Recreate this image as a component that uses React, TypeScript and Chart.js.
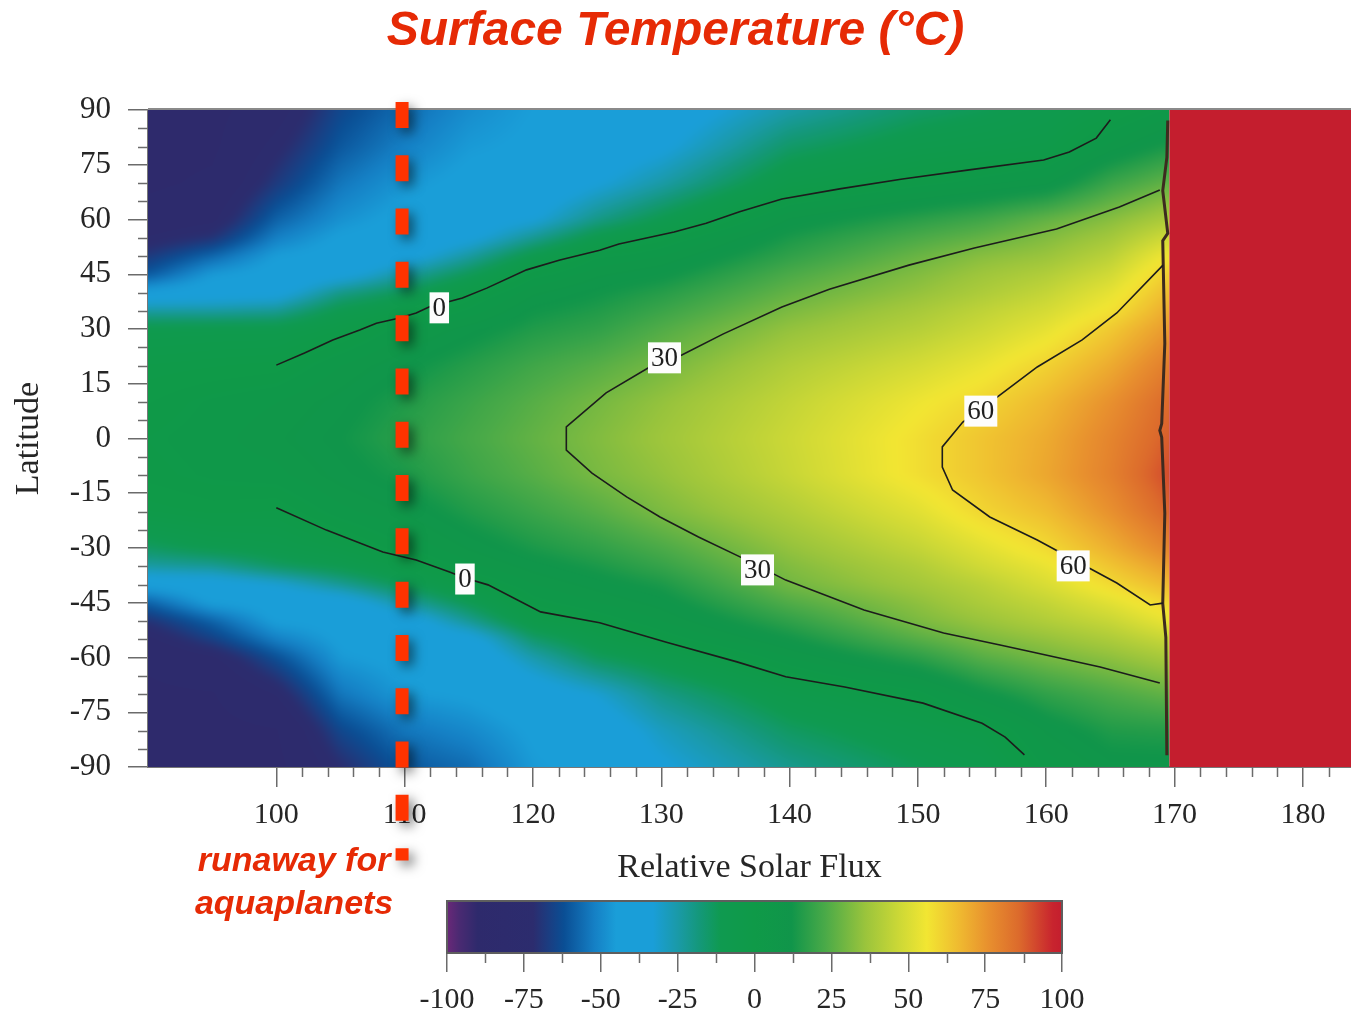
import { useEffect, useRef } from 'react';
import { Chart, registerables } from 'chart.js';

Chart.register(...registerables);

// ---- Temperature field (°C): rows follow gridLatitude, columns follow gridFlux ----
const gridFlux = [90, 95, 100, 105, 110, 115, 120, 125, 130, 140, 150, 155, 160, 165, 169.5];
const gridLatitude = [90, 80, 70, 60, 55, 50, 45, 40, 35, 30, 20, 10, 0, -10, -20, -30, -35, -40, -45, -50, -55, -60, -70, -80, -90];
const surfaceTemperature = [
  [-89, -88, -80, -64, -56, -49, -45, -43, -40, -25, -15, -12, -8, -2, 4],
  [-88, -87, -74, -60, -52, -46, -44, -40, -35, -15, -7, -5, -3, 7, 14],
  [-87, -84, -68, -54, -47, -43, -42, -34, -25, -5, 2, 5, 8, 20, 27],
  [-82, -78, -58, -48, -43, -40, -34, -20, -10, 9, 17, 21, 27, 33, 40],
  [-76, -70, -52, -44, -42, -36, -22, -8, 0, 14, 23, 27, 32, 38, 48],
  [-68, -57, -45, -42, -38, -24, -8, 3, 6, 18, 28, 33, 36, 43, 56],
  [-60, -46, -42, -38, -24, -12, 2, 8, 11, 23, 32, 37, 41, 48, 62],
  [-43, -40, -38, -20, -12, -1, 8, 12, 16, 27, 35, 40, 45, 53, 66],
  [-24, -24, -22, -9, -3, 4, 12, 15, 20, 31, 39, 44, 49, 57, 70],
  [-8, -7, -7, -2, 5, 10, 15, 18, 24, 35, 42, 47, 53, 63, 74],
  [-2, -1, 0, 6, 11, 16, 21, 25, 30, 41, 49, 54, 61, 70, 81],
  [1, 4, 6, 10, 15, 20, 25, 30, 35, 45, 55, 60, 67, 76, 86],
  [3, 5, 8, 12, 17, 22, 27, 32, 37, 47, 58, 64, 70, 79, 88],
  [2, 4, 5, 10, 14, 20, 25, 30.5, 35, 46, 58, 64, 71, 80, 91],
  [-2, 0, -1, 5, 9, 15, 20, 25, 31, 41, 52, 60, 66, 76, 87],
  [-14, -9, -7, -3, 3, 9, 14, 18, 23, 35, 45, 52, 59, 69, 79],
  [-24, -22, -14, -9, -2, 5, 10, 14, 19, 32, 41, 48, 54, 64, 73],
  [-42, -40, -33, -22, -11, -1, 6, 10, 14, 29.5, 38, 43, 50, 59, 67],
  [-58, -44, -42, -40, -24, -11, 2, 6, 10, 24, 34, 40, 45, 52, 60],
  [-70, -58, -44, -43, -40, -22, -4, 1, 6, 18, 31, 36, 41, 46, 54],
  [-78, -66, -52, -44, -42, -38, -16, -6, 1, 12, 25, 31, 35, 40, 46],
  [-84, -78, -62, -46, -43, -42, -26, -13, -7, 6, 17, 25, 30, 34, 39],
  [-87, -86, -76, -54, -46, -44, -40, -32, -20, -6, 2, 11, 18, 23, 27],
  [-89, -88, -86, -64, -54, -50, -44, -40, -29, -14, -6, -2, 9, 15, 16],
  [-90, -89, -88, -72, -60, -56, -46, -43, -34, -21, -12, -8, 4, 10, 10],
];

// Beyond this relative flux the planet is in runaway (off-scale hot)
const runawayOnsetFlux = 169.6;
// Runaway threshold for aquaplanets (dashed marker) and its vertical extent in latitude units
const aquaplanetRunawayFlux = 109.8;
const markerLatitudeSpan = [92.2, -115.6];

// ---- Isotherms: [relative flux, latitude] ----
const contour0North: [number, number][] = [
  [100.0, 20.1], [102.2, 23.4], [104.4, 27.0], [106.5, 29.7], [107.8, 31.6], [109.6, 33.0],
  [110.9, 34.4], [111.9, 36.0], [114.5, 38.5], [116.4, 41.2], [119.5, 46.2], [122.1, 48.9],
  [125.2, 51.6], [126.7, 53.3], [131.0, 56.6], [133.5, 59.0], [136.1, 62.1], [139.4, 65.6],
  [143.9, 68.4], [148.8, 71.1], [154.0, 73.6], [159.8, 76.3], [161.8, 78.5], [163.9, 82.3],
  [165.0, 87.3],
];
const contour0South: [number, number][] = [
  [100.0, -19.0], [103.9, -25.1], [108.3, -31.1], [110.9, -33.3], [113.5, -36.6], [114.7, -38.2],
  [116.5, -40.1], [120.6, -47.5], [125.2, -50.5], [130.4, -55.8], [135.9, -61.2], [139.7, -65.3],
  [144.3, -68.1], [150.4, -72.5], [155.0, -78.0], [156.8, -81.8], [158.3, -86.7],
];
const contour30: [number, number][] = [
  [168.85, 68.1], [165.7, 63.4], [160.8, 57.4], [154.4, 52.2], [149.3, 47.5], [143.1, 40.9],
  [139.4, 36.0], [134.8, 28.6], [131.6, 22.9], [129.1, 19.6], [125.7, 12.5], [122.6, 3.2],
  [122.6, -3.2], [124.6, -9.5], [127.3, -16.0], [129.9, -21.5], [132.9, -27.0], [136.3, -32.7],
  [139.7, -38.8], [145.8, -47.0], [152.0, -53.3], [156.4, -56.6], [158.9, -58.5], [164.2, -62.6],
  [168.85, -67.0],
];
const contour60: [number, number][] = [
  [169.1, 47.5], [165.5, 34.4], [162.8, 27.0], [159.3, 19.6], [156.2, 11.4], [153.5, 4.5],
  [151.9, -2.3], [151.9, -7.8], [152.7, -14.1], [155.6, -21.5], [159.3, -27.8], [165.5, -39.6],
  [168.1, -45.6], [169.1, -45.1],
];
const runawayEdge: [number, number][] = [
  [169.47, 87.1], [169.4, 77], [169.08, 67.9], [169.47, 56.2], [169.08, 54.2], [169.24, 26],
  [169.0, 4.1], [168.85, 2.2], [169.0, 0.3], [169.24, -20.5], [169.08, -45.2], [169.32, -54.5],
  [169.4, -86.8],
];

const contourLabelText = ['0', '0', '30', '30', '60', '60'];
const contourLabelFlux = [112.7, 114.7, 130.25, 137.5, 154.9, 162.1];
const contourLabelLatitude = [35.8, -38.5, 22.1, -36.0, 7.5, -34.9];

// ---- Axes ----
const fluxTicks = [100, 110, 120, 130, 140, 150, 160, 170, 180];
const fluxMinorTicks = [102, 104, 106, 108, 112, 114, 116, 118, 122, 124, 126, 128, 132, 134, 136, 138,
  142, 144, 146, 148, 152, 154, 156, 158, 162, 164, 166, 168, 172, 174, 176, 178, 182];
const latitudeTicks = [-90, -75, -60, -45, -30, -15, 0, 15, 30, 45, 60, 75, 90];
const latitudeMinorTicks = [-85, -80, -70, -65, -55, -50, -40, -35, -25, -20, -10, -5,
  5, 10, 20, 25, 35, 40, 50, 55, 65, 70, 80, 85];

// ---- Colour scale ----
const colorbarTicks = [-100, -75, -50, -25, 0, 25, 50, 75, 100];
const colorbarMinorTicks = [-87.5, -62.5, -37.5, -12.5, 12.5, 37.5, 62.5, 87.5];
const paletteValues = [-100, -96, -90, -72, -62, -52, -45, -33, -25, -18, -11, 0, 12, 23, 36, 47, 56, 67, 76, 86, 97, 100];
const paletteColors = ['#6a2878', '#4a2a72', '#2e2a6c', '#2c2c6e', '#0a4e94', '#1580c5', '#1a9ed8', '#1a9ed8',
  '#1a9aa8', '#14987a', '#0f9a50', '#0f9a48', '#10954a', '#4aaa48', '#9ac43c', '#ccd836', '#f2e632',
  '#efb830', '#e8902e', '#dc6a2c', '#c8242e', '#c41e2e'];

const SERIF = "'Liberation Serif', 'Times New Roman', serif";
const SANS = "'Liberation Sans', Arial, sans-serif";
const ACCENT = '#e62a05';
const AXIS_GREY = '#6b6b6b';
const TEXT = '#262626';

function hexToRgb(h: string) {
  const n = parseInt(h.slice(1), 16);
  return [(n >> 16) & 255, (n >> 8) & 255, n & 255];
}

function buildPalette(size: number) {
  const lut = new Uint8ClampedArray(size * 3);
  const rgb = paletteColors.map(hexToRgb);
  for (let i = 0; i < size; i++) {
    const v = -100 + (200 * i) / (size - 1);
    let k = 0;
    while (k < paletteValues.length - 2 && v > paletteValues[k + 1]) k++;
    const t = Math.min(1, Math.max(0, (v - paletteValues[k]) / (paletteValues[k + 1] - paletteValues[k])));
    for (let c = 0; c < 3; c++) lut[i * 3 + c] = rgb[k][c] + (rgb[k + 1][c] - rgb[k][c]) * t;
  }
  return lut;
}

// Bracketing grid index and fraction for a monotone axis (ascending or descending)
function locate(axis: number[], v: number): [number, number] {
  const n = axis.length;
  const asc = axis[n - 1] > axis[0];
  let k = 0;
  for (; k < n - 2; k++) {
    const hi = axis[k + 1];
    if (asc ? v <= hi : v >= hi) break;
  }
  const f = (v - axis[k]) / (axis[k + 1] - axis[k]);
  return [k, Math.min(1, Math.max(0, f))];
}

const toPoints = (pts: [number, number][]) => pts.map(([x, y]) => ({ x, y }));

// Shaded temperature field plus the off-scale runaway region
const temperatureFieldPlugin = {
  id: 'temperatureField',
  beforeDatasetsDraw(chart: any) {
    const { ctx, chartArea: a } = chart;
    const xs = chart.scales.x;
    const ys = chart.scales.y;
    const pad = 16;
    const left = Math.floor(a.left) - pad;
    const top = Math.floor(a.top) - pad;
    const w = Math.ceil(a.right) + pad - left;
    const h = Math.ceil(a.bottom) + pad - top;
    const off = document.createElement('canvas');
    off.width = w;
    off.height = h;
    const octx = off.getContext('2d')!;
    const img = octx.createImageData(w, h);
    const data = img.data;
    const size = 1024;
    const lut = buildPalette(size);
    const ci = new Int32Array(w);
    const cf = new Float32Array(w);
    for (let i = 0; i < w; i++) {
      const [k, f] = locate(gridFlux, xs.getValueForPixel(left + i + 0.5));
      ci[i] = k; cf[i] = f;
    }
    const ri = new Int32Array(h);
    const rf = new Float32Array(h);
    for (let j = 0; j < h; j++) {
      const [k, f] = locate(gridLatitude, ys.getValueForPixel(top + j + 0.5));
      ri[j] = k; rf[j] = f;
    }
    for (let j = 0; j < h; j++) {
      const r0 = surfaceTemperature[ri[j]];
      const r1 = surfaceTemperature[ri[j] + 1];
      const fr = rf[j];
      for (let i = 0; i < w; i++) {
        const c = ci[i];
        const fc = cf[i];
        const t = (r0[c] * (1 - fc) + r0[c + 1] * fc) * (1 - fr) + (r1[c] * (1 - fc) + r1[c + 1] * fc) * fr;
        const li = Math.round(((Math.min(100, Math.max(-100, t)) + 100) / 200) * (size - 1)) * 3;
        const idx = (j * w + i) * 4;
        data[idx] = lut[li];
        data[idx + 1] = lut[li + 1];
        data[idx + 2] = lut[li + 2];
        data[idx + 3] = 255;
      }
    }
    octx.putImageData(img, 0, 0);
    const edge = xs.getPixelForValue(runawayOnsetFlux);
    ctx.save();
    ctx.beginPath();
    ctx.rect(a.left, a.top, edge - a.left, a.bottom - a.top);
    ctx.clip();
    ctx.filter = 'blur(4px)';
    ctx.drawImage(off, left, top);
    ctx.restore();
    ctx.save();
    ctx.fillStyle = paletteColors[paletteColors.length - 1];
    ctx.fillRect(edge, a.top, a.right - edge, a.bottom - a.top);
    ctx.restore();
  },
};

// White boxed isotherm values
const contourLabelPlugin = {
  id: 'contourLabels',
  afterDatasetsDraw(chart: any) {
    const { ctx } = chart;
    const xs = chart.scales.x;
    const ys = chart.scales.y;
    ctx.save();
    ctx.font = `27px ${SERIF}`;
    ctx.textAlign = 'center';
    ctx.textBaseline = 'middle';
    contourLabelText.forEach((text, i) => {
      const cx = xs.getPixelForValue(contourLabelFlux[i]);
      const cy = ys.getPixelForValue(contourLabelLatitude[i]);
      const bw = ctx.measureText(text).width + 6;
      const bh = 31;
      ctx.fillStyle = '#fdfdfd';
      ctx.fillRect(cx - bw / 2, cy - bh / 2, bw, bh);
      ctx.fillStyle = '#1e1e1e';
      ctx.fillText(text, cx, cy + 1);
    });
    ctx.restore();
  },
};

// Minor tick marks and the upper frame line
const axisDetailPlugin = {
  id: 'axisDetail',
  afterDraw(chart: any) {
    const { ctx, chartArea: a } = chart;
    const xs = chart.scales.x;
    const ys = chart.scales.y;
    ctx.save();
    ctx.strokeStyle = AXIS_GREY;
    ctx.lineWidth = 1.5;
    ctx.beginPath();
    fluxMinorTicks.forEach((v) => {
      const px = Math.round(xs.getPixelForValue(v)) + 0.5;
      ctx.moveTo(px, a.bottom);
      ctx.lineTo(px, a.bottom + 10);
    });
    latitudeMinorTicks.forEach((v) => {
      const py = Math.round(ys.getPixelForValue(v)) + 0.5;
      ctx.moveTo(a.left - 10, py);
      ctx.lineTo(a.left, py);
    });
    ctx.stroke();
    ctx.strokeStyle = '#8a8a8a';
    ctx.lineWidth = 2;
    ctx.beginPath();
    ctx.moveTo(a.left, a.top - 1);
    ctx.lineTo(a.right, a.top - 1);
    ctx.stroke();
    ctx.restore();
  },
};

// Dashed runaway marker for aquaplanets, with its caption
const runawayMarkerPlugin = {
  id: 'runawayMarker',
  afterDraw(chart: any) {
    const { ctx, chartArea: a } = chart;
    const xs = chart.scales.x;
    const ys = chart.scales.y;
    const px = xs.getPixelForValue(aquaplanetRunawayFlux);
    const y0 = ys.getPixelForValue(markerLatitudeSpan[0]);
    const y1 = ys.getPixelForValue(markerLatitudeSpan[1]);
    ctx.save();
    ctx.fillStyle = ACCENT;
    ctx.font = `italic bold 34px ${SANS}`;
    ctx.textAlign = 'center';
    ctx.textBaseline = 'middle';
    ctx.fillText('runaway for', px - 108, a.bottom + 95);
    ctx.fillText('aquaplanets', px - 108, a.bottom + 138);
    ctx.restore();
    ctx.save();
    ctx.strokeStyle = '#ff3300';
    ctx.lineWidth = 13;
    ctx.lineCap = 'butt';
    ctx.setLineDash([26, 27.3]);
    ctx.shadowColor = 'rgba(0,0,0,0.5)';
    ctx.shadowBlur = 12;
    ctx.shadowOffsetX = 5;
    ctx.shadowOffsetY = 5;
    ctx.beginPath();
    ctx.moveTo(px, y0);
    ctx.lineTo(px, y1);
    ctx.stroke();
    ctx.restore();
  },
};

// Gradient strip and frame of the colour bar
const colorbarPlugin = {
  id: 'colorbarStrip',
  beforeDatasetsDraw(chart: any) {
    const { ctx, chartArea: a } = chart;
    const xs = chart.scales.x;
    const x0 = xs.getPixelForValue(paletteValues[0]);
    const x1 = xs.getPixelForValue(paletteValues[paletteValues.length - 1]);
    const g = ctx.createLinearGradient(x0, 0, x1, 0);
    paletteValues.forEach((v, i) => {
      g.addColorStop((xs.getPixelForValue(v) - x0) / (x1 - x0), paletteColors[i]);
    });
    ctx.save();
    ctx.fillStyle = g;
    ctx.fillRect(a.left, a.top, a.right - a.left, a.bottom - a.top);
    ctx.strokeStyle = '#5e5e5e';
    ctx.lineWidth = 2;
    ctx.strokeRect(a.left, a.top, a.right - a.left, a.bottom - a.top);
    ctx.strokeStyle = AXIS_GREY;
    ctx.lineWidth = 1.5;
    ctx.beginPath();
    colorbarMinorTicks.forEach((v) => {
      const px = Math.round(xs.getPixelForValue(v)) + 0.5;
      ctx.moveTo(px, a.bottom);
      ctx.lineTo(px, a.bottom + 10);
    });
    ctx.stroke();
    ctx.restore();
  },
};

const lineStyle = (data: [number, number][], color: string, width: number) => ({
  data: toPoints(data),
  showLine: true,
  borderColor: color,
  borderWidth: width,
  pointRadius: 0,
  fill: false,
  tension: 0,
});

export default function App() {
  const mainRef = useRef<HTMLCanvasElement>(null);
  const barRef = useRef<HTMLCanvasElement>(null);

  useEffect(() => {
    const main = new Chart(mainRef.current!, {
      type: 'scatter',
      data: {
        datasets: [
          lineStyle(contour0North, '#1c1c1c', 1.6),
          lineStyle(contour0South, '#1c1c1c', 1.6),
          lineStyle(contour30, '#1c1c1c', 1.6),
          lineStyle(contour60, '#1c1c1c', 1.6),
          lineStyle(runawayEdge, '#3d2b1f', 3),
        ],
      },
      options: {
        responsive: false,
        maintainAspectRatio: false,
        devicePixelRatio: 1,
        animation: false,
        events: [],
        layout: { padding: 0 },
        plugins: {
          legend: { display: false },
          tooltip: { enabled: false },
          title: {
            display: true,
            text: 'Surface Temperature (°C)',
            color: ACCENT,
            font: { family: SANS, size: 48, weight: 'bold', style: 'italic' },
            padding: { top: 3, bottom: 49.4 },
          },
        },
        scales: {
          x: {
            type: 'linear',
            position: 'bottom',
            min: 90,
            max: 183.75,
            afterBuildTicks: (axis: any) => {
              axis.ticks = fluxTicks.map((value) => ({ value }));
            },
            afterFit: (axis: any) => {
              axis.height = 250;
            },
            ticks: { color: TEXT, font: { family: SERIF, size: 30 }, padding: 10, maxRotation: 0, autoSkip: false },
            grid: { drawOnChartArea: false, drawTicks: true, tickLength: 20, color: AXIS_GREY, lineWidth: 1.5 },
            border: { display: true, color: '#777777', width: 2 },
            title: {
              display: true,
              text: 'Relative Solar Flux',
              color: TEXT,
              font: { family: SERIF, size: 34 },
              padding: { top: 4, bottom: 128.6 },
            },
          },
          y: {
            type: 'linear',
            position: 'left',
            min: -90,
            max: 90,
            afterBuildTicks: (axis: any) => {
              axis.ticks = latitudeTicks.map((value) => ({ value }));
            },
            afterFit: (axis: any) => {
              axis.width = 148;
            },
            ticks: { color: TEXT, font: { family: SERIF, size: 31 }, padding: 17 },
            grid: { drawOnChartArea: false, drawTicks: true, tickLength: 20, color: AXIS_GREY, lineWidth: 1.5 },
            border: { display: true, color: '#777777', width: 2 },
            title: {
              display: true,
              text: 'Latitude',
              color: TEXT,
              font: { family: SERIF, size: 34 },
              padding: { top: 9, bottom: 4 },
            },
          },
        },
      },
      plugins: [temperatureFieldPlugin, contourLabelPlugin, axisDetailPlugin, runawayMarkerPlugin],
    } as any);

    const bar = new Chart(barRef.current!, {
      type: 'scatter',
      data: { datasets: [] },
      options: {
        responsive: false,
        maintainAspectRatio: false,
        devicePixelRatio: 1,
        animation: false,
        events: [],
        layout: { padding: { left: 447, right: 289, top: 21, bottom: 0 } },
        plugins: { legend: { display: false }, tooltip: { enabled: false } },
        scales: {
          x: {
            type: 'linear',
            position: 'bottom',
            min: -100,
            max: 100,
            afterBuildTicks: (axis: any) => {
              axis.ticks = colorbarTicks.map((value) => ({ value }));
            },
            afterFit: (axis: any) => {
              axis.height = 64;
            },
            ticks: { color: TEXT, font: { family: SERIF, size: 30 }, padding: 10, maxRotation: 0, autoSkip: false },
            grid: { drawOnChartArea: false, drawTicks: true, tickLength: 19, color: AXIS_GREY, lineWidth: 1.5 },
            border: { display: false },
          },
          y: { type: 'linear', display: false, min: 0, max: 1 },
        },
      },
      plugins: [colorbarPlugin],
    } as any);

    return () => {
      main.destroy();
      bar.destroy();
    };
  }, []);

  return (
    <div style={{ position: 'fixed', left: 0, top: 0, width: 1351, height: 1017, background: '#ffffff', overflow: 'hidden' }}>
      <canvas ref={mainRef} width={1351} height={1017} style={{ position: 'absolute', left: 0, top: 0 }} />
      <canvas ref={barRef} width={1351} height={137} style={{ position: 'absolute', left: 0, top: 880 }} />
    </div>
  );
}
